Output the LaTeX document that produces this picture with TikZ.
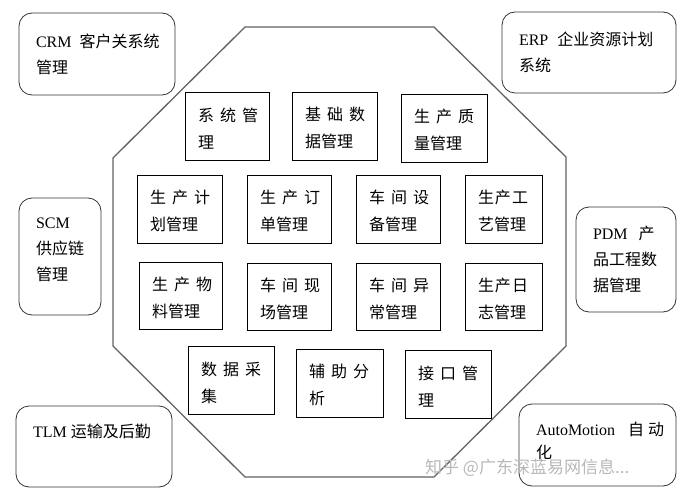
\documentclass[tikz,border=0pt]{standalone}
\usepackage{fontspec}
\setmainfont{Liberation Serif}
\newfontfamily\cjk{Noto Sans CJK SC}
\newcommand\latn[1]{{\rmfamily #1}}

\begin{document}
\begin{tikzpicture}[
    x=1pt, y=-1pt,
    frame/.style={draw=black!62, line width=1.3pt, line join=round},
    module/.style={draw, line width=0.8pt, font=\cjk\fontsize{16}{27}\selectfont,
                   align=left, text width=58pt, inner xsep=13pt, inner ysep=0pt,
                   text height=18pt, minimum height=68pt},
    system/.style={draw=black!80, line width=0.8pt, rounded corners=13pt,
                   font=\cjk\fontsize{16}{26}\selectfont, align=left,
                   inner xsep=17pt, inner ysep=0pt},
    watermark/.style={font=\cjk\fontsize{17}{17}\selectfont, text=black!28, inner sep=0pt}
]
  \useasboundingbox (0,0) rectangle (688,497);
  % --- the MES octagon ---------------------------------------------------
  \draw[frame] (245,27) -- (434,27) -- (566,157) -- (566,346)
    -- (434,477) -- (245,477) -- (113,346) -- (113,158) -- cycle;
  % --- modules inside, four rows -----------------------------------------
  \node[module] (sysmgmt) at (227,126) {系\kern6pt 统\kern6pt 管\\理};
  \node[module, text width=59pt] (basedata) at (334.5,126) {基\kern6pt 础\kern6pt 数\\据管理};
  \node[module, text width=60pt] (quality) at (444,128) {生\kern6pt 产\kern6pt 质\\量管理};

  \node[module, text width=59pt] (plan) at (179.5,209) {生\kern6pt 产\kern6pt 计\\划管理};
  \node[module] (order) at (289,209) {生\kern6pt 产\kern6pt 订\\单管理};
  \node[module] (equip) at (398,209) {车\kern6pt 间\kern6pt 设\\备管理};
  \node[module, text width=51pt] (craft) at (503.5,209) {生\kern1pt 产\kern1pt 工\\艺管理};

  \node[module, text width=57pt, minimum height=67pt] (material) at (180.5,295.5) {生\kern6pt 产\kern6pt 物\\料管理};
  \node[module, minimum height=67pt] (site) at (289,296.5) {车\kern6pt 间\kern6pt 现\\场管理};
  \node[module, minimum height=67pt] (abnormal) at (398,296.5) {车\kern6pt 间\kern6pt 异\\常管理};
  \node[module, text width=51pt, minimum height=67pt] (log) at (503.5,296.5) {生\kern1pt 产\kern1pt 日\\志管理};

  \node[module, text width=60pt] (collect) at (231,380.5) {数\kern6pt 据\kern6pt 采\\集};
  \node[module, text width=61pt] (analysis) at (339.5,383) {辅\kern6pt 助\kern6pt 分\\析};
  \node[module, text width=60pt] (iface) at (448,384) {接\kern6pt 口\kern6pt 管\\理};
  % --- outside systems, rounded --------------------------------------------
  \node[system, text width=122pt, minimum height=82pt] (crm) at (97,54)
    {\latn{CRM}\kern8pt 客户关系统\\管理};
  \node[system, text width=140pt, minimum height=81pt] (erp) at (589,52.5)
    {\latn{ERP}\kern9pt 企业资源计划\\系统};
  \node[system, text width=48pt, minimum height=117pt, text depth=67pt] (scm) at (60,256.5)
    {\latn{SCM}\\供应链\\管理};
  \node[system, text width=66pt, minimum height=105pt] (pdm) at (626,259.5)
    {\latn{PDM}\kern11pt 产\\品工程数\\据管理};
  \node[system, text width=122pt, minimum height=81pt, text depth=31pt] (tlm) at (94,446.5)
    {\latn{TLM}\kern4pt 运输及后勤};
  \node[system, text width=123pt, minimum height=82pt, text depth=32pt,
        font=\cjk\fontsize{16}{23}\selectfont] (auto) at (597.5,445)
    {\latn{AutoMotion}\kern13pt 自\kern4pt 动\\化};
  \node[watermark, anchor=west] (zhihu) at (425,468) {知乎 @广东深蓝易网信息...};
\end{tikzpicture}
\end{document}
